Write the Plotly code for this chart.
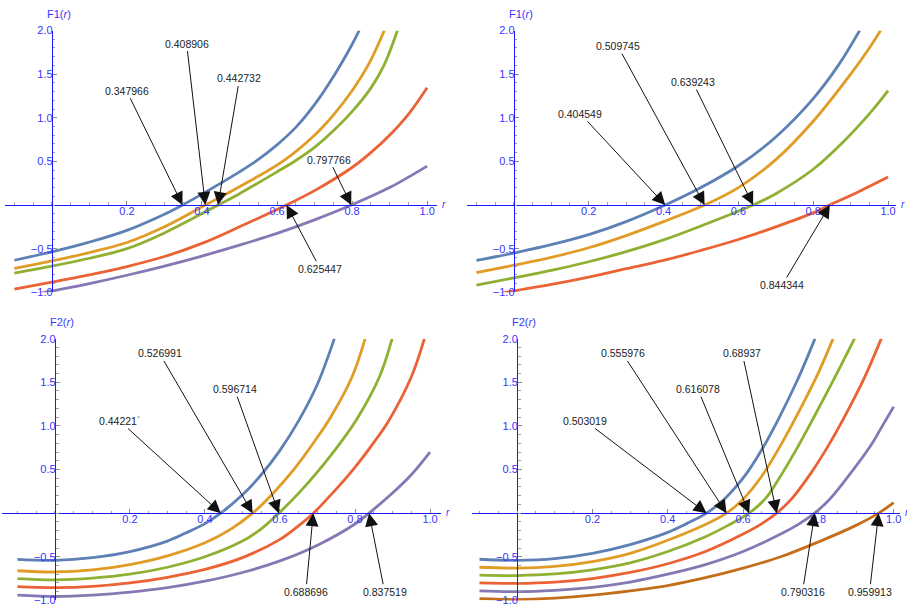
import plotly.graph_objects as go

FONT = "Liberation Sans, Arial, sans-serif"
COLORS = ["#5E81B5", "#E09C24", "#8FB032", "#EB6235", "#8778B3", "#C56E1A"]
AXIS_BLUE = "#1a1aff"
TICK_BLUE = "#3535ff"

# ---------------- Panel 1 : F1(r), left ----------------
p1_blue_r = [-0.1, 0, 0.1, 0.2, 0.3, 0.348, 0.4, 0.5, 0.544, 0.6, 0.65, 0.7, 0.75, 0.8, 0.819]
p1_blue_y = [-0.633, -0.536, -0.425, -0.29, -0.105, 0, 0.125, 0.38, 0.503, 0.69, 0.89, 1.15, 1.47, 1.84, 2.0]
p1_orange_r = [-0.1, 0, 0.1, 0.2, 0.3, 0.409, 0.5, 0.615, 0.7, 0.75, 0.8, 0.845, 0.886]
p1_orange_y = [-0.727, -0.64, -0.545, -0.43, -0.25, 0, 0.21, 0.5, 0.80, 1.03, 1.31, 1.62, 2.0]
p1_green_r = [-0.1, 0, 0.1, 0.2, 0.3, 0.443, 0.5, 0.6, 0.65, 0.7, 0.75, 0.8, 0.85, 0.885, 0.921]
p1_green_y = [-0.78, -0.70, -0.61, -0.50, -0.32, 0, 0.13, 0.38, 0.51, 0.66, 0.85, 1.07, 1.34, 1.6, 2.0]
p1_red_r = [-0.1, 0, 0.1, 0.2, 0.3, 0.4, 0.5, 0.625, 0.7, 0.8, 0.85, 0.9, 0.95, 1.0]
p1_red_y = [-0.963, -0.884, -0.80, -0.705, -0.59, -0.44, -0.25, 0, 0.165, 0.43, 0.6, 0.8, 1.04, 1.345]
p1_purple_r = [-0.1, 0, 0.1, 0.2, 0.3, 0.4, 0.5, 0.6, 0.7, 0.798, 0.9, 1.0]
p1_purple_y = [-1.07, -0.985, -0.90, -0.805, -0.70, -0.585, -0.46, -0.325, -0.17, 0, 0.2, 0.446]
p1_roots = [0.347966, 0.408906, 0.442732, 0.797766, 0.625447]
p1_labels = ["0.347966", "0.408906", "0.442732", "0.797766", "0.625447"]
p1_label_r = [0.199, 0.359, 0.50, 0.739, 0.715]
p1_label_y = [1.31, 1.85, 1.45, 0.52, -0.73]

# ---------------- Panel 2 : F1(r), right ----------------
p2_blue_r = [-0.1, 0, 0.1, 0.2, 0.3, 0.4045, 0.5, 0.6, 0.7, 0.8, 0.867, 0.924]
p2_blue_y = [-0.635, -0.55, -0.455, -0.34, -0.19, 0, 0.2, 0.45, 0.78, 1.22, 1.6, 2.0]
p2_orange_r = [-0.1, 0, 0.1, 0.2, 0.3, 0.4, 0.5097, 0.6, 0.7, 0.8, 0.9, 0.95, 0.98]
p2_orange_y = [-0.775, -0.69, -0.60, -0.49, -0.35, -0.19, 0, 0.2, 0.52, 0.96, 1.5, 1.8, 2.0]
p2_green_r = [-0.1, 0, 0.1, 0.2, 0.3, 0.4, 0.5, 0.639, 0.7, 0.8, 0.884, 0.955, 1.0]
p2_green_y = [-0.917, -0.835, -0.75, -0.65, -0.535, -0.40, -0.24, 0, 0.13, 0.41, 0.74, 1.07, 1.31]
p2_red_r = [-0.1, 0, 0.1, 0.2, 0.3, 0.4, 0.5, 0.6, 0.7, 0.8, 0.844, 0.92, 1.0]
p2_red_y = [-1.07, -0.985, -0.91, -0.825, -0.73, -0.635, -0.52, -0.395, -0.25, -0.09, 0, 0.15, 0.32]
p2_roots = [0.404549, 0.509745, 0.639243, 0.844344]
p2_labels = ["0.404549", "0.509745", "0.639243", "0.844344"]
p2_label_r = [0.178, 0.278, 0.478, 0.717]
p2_label_y = [1.045, 1.82, 1.41, -0.917]

# ---------------- Panel 3 : F2(r), left ----------------
p3_blue_r = [-0.1, 0, 0.1, 0.2, 0.3, 0.35, 0.4, 0.442, 0.5, 0.55, 0.6, 0.65, 0.7, 0.745]
p3_blue_y = [-0.53, -0.54, -0.51, -0.44, -0.32, -0.225, -0.12, 0, 0.21, 0.44, 0.72, 1.06, 1.48, 2.0]
p3_orange_r = [-0.1, 0, 0.1, 0.2, 0.3, 0.4, 0.47, 0.527, 0.58, 0.635, 0.69, 0.735, 0.792, 0.827]
p3_orange_y = [-0.66, -0.674, -0.65, -0.59, -0.49, -0.34, -0.18, 0, 0.22, 0.49, 0.81, 1.1, 1.56, 2.0]
p3_green_r = [-0.1, 0, 0.1, 0.2, 0.3, 0.4, 0.5, 0.55, 0.597, 0.65, 0.705, 0.76, 0.808, 0.865, 0.899]
p3_green_y = [-0.75, -0.764, -0.745, -0.70, -0.62, -0.50, -0.32, -0.18, 0, 0.23, 0.5, 0.8, 1.1, 1.56, 2.0]
p3_red_r = [-0.1, 0, 0.1, 0.2, 0.3, 0.4, 0.5, 0.6, 0.645, 0.689, 0.74, 0.795, 0.845, 0.89, 0.95, 0.985]
p3_red_y = [-0.843, -0.854, -0.84, -0.80, -0.735, -0.645, -0.51, -0.3, -0.16, 0, 0.23, 0.5, 0.78, 1.06, 1.56, 2.0]
p3_purple_r = [-0.1, 0, 0.1, 0.2, 0.3, 0.4, 0.5, 0.6, 0.7, 0.8, 0.8375, 0.9, 0.95, 1.0]
p3_purple_y = [-0.94, -0.955, -0.94, -0.906, -0.854, -0.78, -0.68, -0.547, -0.367, -0.124, 0, 0.23, 0.44, 0.70]
p3_roots = [0.44221, 0.526991, 0.596714, 0.688696, 0.837519]
p3_labels = ["0.44221`", "0.526991", "0.596714", "0.688696", "0.837519"]
p3_label_r = [0.173, 0.279, 0.479, 0.669, 0.879]
p3_label_y = [1.056, 1.83, 1.42, -0.90, -0.90]

# ---------------- Panel 4 : F2(r), right ----------------
p4_blue_r = [-0.1, 0, 0.1, 0.2, 0.3, 0.4, 0.45, 0.503, 0.55, 0.605, 0.65, 0.693, 0.746, 0.791]
p4_blue_y = [-0.528, -0.54, -0.52, -0.46, -0.36, -0.22, -0.12, 0, 0.16, 0.43, 0.73, 1.07, 1.54, 2.0]
p4_orange_r = [-0.1, 0, 0.1, 0.2, 0.3, 0.4, 0.5, 0.556, 0.6, 0.649, 0.7, 0.738, 0.799, 0.839]
p4_orange_y = [-0.62, -0.63, -0.61, -0.555, -0.46, -0.31, -0.13, 0, 0.16, 0.42, 0.78, 1.08, 1.6, 2.0]
p4_green_r = [-0.1, 0, 0.1, 0.2, 0.3, 0.4, 0.5, 0.56, 0.616, 0.66, 0.693, 0.74, 0.782, 0.843, 0.896]
p4_green_y = [-0.71, -0.715, -0.697, -0.65, -0.57, -0.44, -0.27, -0.14, 0, 0.17, 0.38, 0.72, 1.05, 1.55, 2.0]
p4_red_r = [-0.1, 0, 0.1, 0.2, 0.3, 0.4, 0.5, 0.6, 0.65, 0.689, 0.73, 0.782, 0.83, 0.87, 0.923, 0.967]
p4_red_y = [-0.80, -0.805, -0.79, -0.75, -0.68, -0.58, -0.44, -0.24, -0.12, 0, 0.17, 0.47, 0.8, 1.11, 1.56, 2.0]
p4_purple_r = [-0.1, 0, 0.1, 0.2, 0.3, 0.4, 0.5, 0.6, 0.7, 0.75, 0.79, 0.83, 0.87, 0.94, 0.97, 1.0]
p4_purple_y = [-0.89, -0.90, -0.884, -0.85, -0.79, -0.70, -0.59, -0.44, -0.24, -0.12, 0, 0.16, 0.37, 0.78, 1.0, 1.22]
p4_brown_r = [-0.1, 0, 0.1, 0.2, 0.3, 0.4, 0.5, 0.6, 0.7, 0.8, 0.9, 0.96, 1.0]
p4_brown_y = [-0.98, -0.99, -0.974, -0.94, -0.89, -0.83, -0.74, -0.63, -0.50, -0.33, -0.14, 0, 0.12]
p4_roots = [0.503019, 0.555976, 0.616078, 0.68937, 0.790316, 0.959913]
p4_labels = ["0.503019", "0.555976", "0.616078", "0.68937", "0.790316", "0.959913"]
p4_label_r = [0.181, 0.28, 0.48, 0.598, 0.758, 0.936]
p4_label_y = [1.056, 1.83, 1.42, 1.83, -0.90, -0.90]

x_ticks = [0.2, 0.4, 0.6, 0.8, 1.0]
y_ticks = [-1.0, -0.5, 0.5, 1.0, 1.5, 2.0]

panels = [
    dict(curves=[(p1_blue_r, p1_blue_y), (p1_orange_r, p1_orange_y), (p1_green_r, p1_green_y),
                 (p1_red_r, p1_red_y), (p1_purple_r, p1_purple_y)],
         roots=p1_roots, labels=p1_labels, lr=p1_label_r, ly=p1_label_y, title="F1(<i>r</i>)",
         xr=[-0.125, 1.027], xpx=[5, 438.2], yr=[-1.0, 2.0], ypx=[25, 292]),
    dict(curves=[(p2_blue_r, p2_blue_y), (p2_orange_r, p2_orange_y), (p2_green_r, p2_green_y),
                 (p2_red_r, p2_red_y)],
         roots=p2_roots, labels=p2_labels, lr=p2_label_r, ly=p2_label_y, title="F1(<i>r</i>)",
         xr=[-0.125, 1.022], xpx=[468.1, 898.3], yr=[-1.0, 2.0], ypx=[25, 292]),
    dict(curves=[(p3_blue_r, p3_blue_y), (p3_orange_r, p3_orange_y), (p3_green_r, p3_green_y),
                 (p3_red_r, p3_red_y), (p3_purple_r, p3_purple_y)],
         roots=p3_roots, labels=p3_labels, lr=p3_label_r, ly=p3_label_y, title="F2(<i>r</i>)",
         xr=[-0.14, 1.028], xpx=[2.4, 441.5], yr=[-1.0, 2.0], ypx=[339.3, 606.3]),
    dict(curves=[(p4_blue_r, p4_blue_y), (p4_orange_r, p4_orange_y), (p4_green_r, p4_green_y),
                 (p4_red_r, p4_red_y), (p4_purple_r, p4_purple_y), (p4_brown_r, p4_brown_y)],
         roots=p4_roots, labels=p4_labels, lr=p4_label_r, ly=p4_label_y, title="F2(<i>r</i>)",
         xr=[-0.12, 1.016], xpx=[473, 901.7], yr=[-1.0, 2.0], ypx=[339.3, 606.3]),
]

W, H = 907, 612
fig = go.Figure()
layout = dict(width=W, height=H, margin=dict(l=0, r=0, t=0, b=0),
              paper_bgcolor="white", plot_bgcolor="white", showlegend=False,
              annotations=[])

for i, p in enumerate(panels):
    n = "" if i == 0 else str(i + 1)
    xa, ya = "x" + n, "y" + n
    xdom = [p["xpx"][0] / W, p["xpx"][1] / W]
    ydom = [1 - p["ypx"][1] / H, 1 - p["ypx"][0] / H]
    x0, x1 = p["xr"]
    y0, y1 = p["yr"]
    # paper positions of the zero lines (axes cross at the origin)
    xpos_of_yaxis = xdom[0] + (0 - x0) / (x1 - x0) * (xdom[1] - xdom[0])
    ypos_of_xaxis = ydom[0] + (0 - y0) / (y1 - y0) * (ydom[1] - ydom[0])

    for k, (rr, yy) in enumerate(p["curves"]):
        fig.add_trace(go.Scatter(x=rr, y=yy, mode="lines", xaxis=xa, yaxis=ya,
                                 line=dict(color=COLORS[k], width=2.8, shape="spline", smoothing=1.0),
                                 hoverinfo="skip"))

    common = dict(showgrid=False, zeroline=False, showline=True, linecolor=AXIS_BLUE, linewidth=1.2,
                  ticks="inside", ticklen=4, tickwidth=1, tickcolor="#8a8a8a",
                  tickfont=dict(family=FONT, size=11, color=TICK_BLUE), tickformat=".1f",
                  anchor="free", fixedrange=True, layer="above traces")
    layout["xaxis" + n] = dict(common, domain=xdom, range=p["xr"], position=ypos_of_xaxis,
                               tickmode="array", tickvals=x_ticks, ticklabelstandoff=-4,
                               minor=dict(ticks="inside", ticklen=2.5, tickcolor="#a0a0a0",
                                          tickmode="linear", tick0=0, dtick=0.05, showgrid=False))
    layout["yaxis" + n] = dict(common, domain=ydom, range=p["yr"], position=xpos_of_yaxis,
                               tickmode="array", tickvals=y_ticks, ticklabelstandoff=-3,
                               minor=dict(ticks="inside", ticklen=2.5, tickcolor="#a0a0a0",
                                          tickmode="linear", tick0=0, dtick=0.1, showgrid=False))

    # axis titles
    layout["annotations"].append(dict(text=p["title"], xref=xa, x=0, yref=ya + " domain", y=1,
                                      xanchor="center", yanchor="bottom", xshift=7, yshift=9,
                                      showarrow=False,
                                      font=dict(family=FONT, size=11, color=TICK_BLUE)))
    layout["annotations"].append(dict(text="<i>r</i>", xref=xa + " domain", x=1, yref=ya, y=0,
                                      xanchor="left", yanchor="middle", xshift=3, yshift=1,
                                      showarrow=False,
                                      font=dict(family=FONT, size=10, color=TICK_BLUE)))
    # root arrows
    for root, lab, lr, ly in zip(p["roots"], p["labels"], p["lr"], p["ly"]):
        layout["annotations"].append(dict(
            x=root, y=0, xref=xa, yref=ya, ax=lr, ay=ly, axref=xa, ayref=ya,
            text=lab, showarrow=True, arrowhead=2, arrowsize=2.6, arrowwidth=1,
            arrowcolor="#111111", standoff=0, borderpad=1,
            font=dict(family=FONT, size=10.5, color="#222222")))

fig.update_layout(**layout)
fig.write_html("out.html", config={"displayModeBar": False},
               post_script="document.body.style.margin='0';document.body.style.overflow='hidden';")
